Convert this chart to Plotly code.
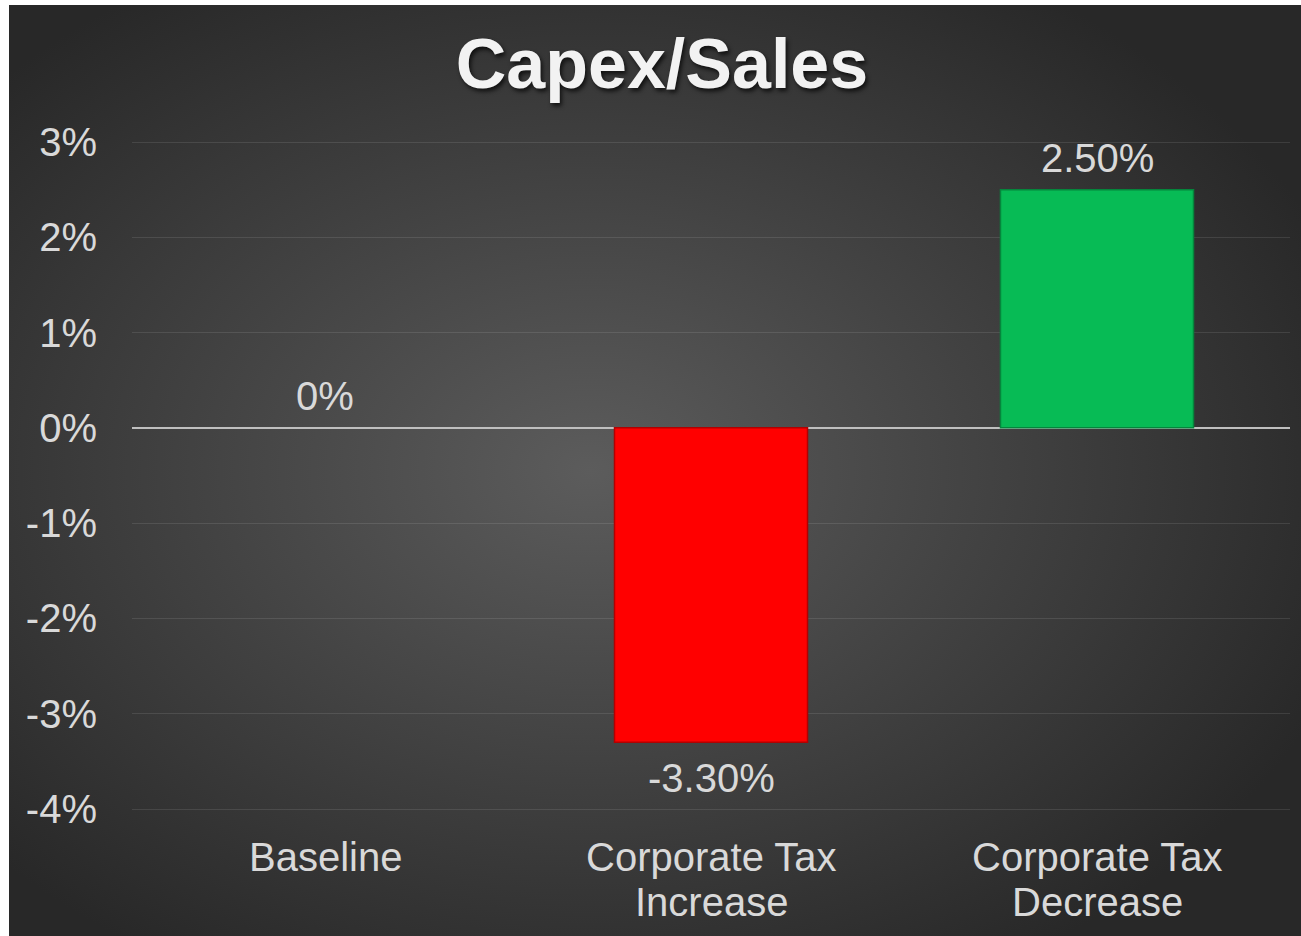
import base64
import plotly.graph_objects as go

# Chart data
categories = ["Baseline", "Corporate Tax<br>Increase", "Corporate Tax<br>Decrease"]
values = [0.0, -3.3, 2.5]
bar_colors = ["rgba(0,0,0,0)", "#ff0000", "#07bb55"]
edge_colors = ["rgba(0,0,0,0)", "#b30000", "#04863c"]
tick_vals = [-4, -3, -2, -1, 0, 1, 2, 3]
tick_text = ["-4%", "-3%", "-2%", "-1%", "0%", "1%", "2%", "3%"]

labels = ["0%" if v == 0 else f"{v:.2f}%" for v in values]

FONT = "Liberation Sans, Arial, sans-serif"
TXT = "#d9d9d9"
W, H = 1301, 936
L, R, T, B = 132, 11, 140, 125
PAD = 0.021  # small headroom so the end gridlines are drawn

# Radial-gradient backdrop (dark charcoal, lighter in the middle)
svg = (
    '<svg xmlns="http://www.w3.org/2000/svg" width="1292" height="931" '
    'viewBox="0 0 1292 931" preserveAspectRatio="none">'
    '<defs><radialGradient id="g" cx="45%" cy="50%" r="62%">'
    '<stop offset="0%" stop-color="#5c5c5c"/>'
    '<stop offset="100%" stop-color="#282828"/>'
    '</radialGradient></defs>'
    '<rect width="1292" height="931" fill="url(#g)"/></svg>'
)
bg_src = "data:image/svg+xml;base64," + base64.b64encode(svg.encode()).decode()

pw, ph = W - L - R, H - T - B
bg_x0, bg_y0 = 9, 5  # white margin around the dark panel
img = dict(
    source=bg_src, xref="paper", yref="paper",
    x=(bg_x0 - L) / pw, y=(H - B - bg_y0) / ph,
    sizex=(W - bg_x0) / pw, sizey=(H - bg_y0) / ph,
    xanchor="left", yanchor="top", sizing="stretch", layer="below",
)

fig = go.Figure(
    go.Bar(
        x=categories, y=values, width=0.5,
        marker=dict(color=bar_colors, line=dict(color=edge_colors, width=1.5)),
        hoverinfo="skip",
    )
)

# Value labels above positive / below negative bars
annotations = [
    dict(
        x=c, y=v, xref="x", yref="y", text=t, showarrow=False,
        yanchor="middle", yshift=(32 if v >= 0 else -36),
        font=dict(family=FONT, size=40, color=TXT),
    )
    for c, v, t in zip(categories, values, labels)
]

# Category labels under the axis (tighter line spacing than tick labels)
for c in categories:
    for i, line in enumerate(c.split("<br>")):
        annotations.append(dict(
            x=c, xref="x", y=0, yref="paper", text=line, showarrow=False,
            yanchor="middle", yshift=-46 - 45 * i,
            font=dict(family=FONT, size=40, color=TXT),
        ))

fig.update_layout(
    width=W, height=H,
    margin=dict(l=L, r=R, t=T, b=B),
    paper_bgcolor="white", plot_bgcolor="rgba(0,0,0,0)",
    images=[img],
    annotations=annotations,
    showlegend=False,
    title=dict(
        text="<b>Capex/Sales</b>", x=662 / W, xref="container", xanchor="center",
        y=1 - 63 / H, yref="container", yanchor="middle",
        font=dict(family=FONT, size=70, color="#f2f2f2",
                  shadow="2px 3px 4px rgba(0,0,0,0.7)"),
    ),
    xaxis=dict(
        showgrid=False, showline=False, zeroline=False,
        showticklabels=False, automargin=False,
    ),
    yaxis=dict(
        range=[-4 - PAD, 3 + PAD], tickvals=tick_vals, ticktext=tick_text,
        showgrid=True, gridcolor="rgba(255,255,255,0.1)", gridwidth=1,
        zeroline=True, zerolinecolor="#bfbfbf", zerolinewidth=2,
        showline=False, automargin=False,
        tickfont=dict(family=FONT, size=40, color=TXT),
        ticklabelstandoff=34,
    ),
)

fig.write_html("out.html")
